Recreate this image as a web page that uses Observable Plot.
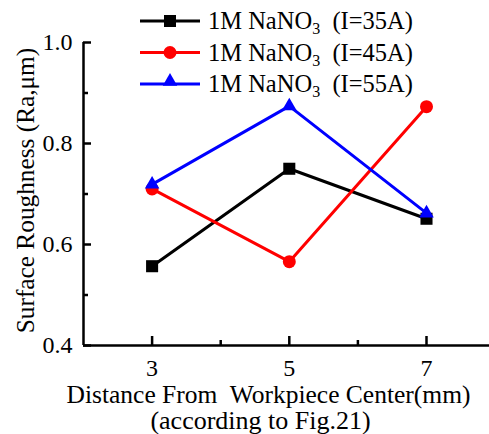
<!DOCTYPE html>
<html><head><meta charset="utf-8">
<script src="https://cdn.jsdelivr.net/npm/d3@7"></script>
<script src="https://cdn.jsdelivr.net/npm/@observablehq/plot@0.6"></script>
<style>body{margin:0;background:#fff}</style>
</head><body><div id="chart"></div>
<script>
const distances = [3, 5, 7];
const series = ["I=35A", "I=45A", "I=55A"];
const ra35 = [0.557, 0.750, 0.651];
const ra45 = [0.710, 0.566, 0.873];
const ra55 = [0.719, 0.874, 0.662];
const xTicks = [3, 5, 7];
const xMinorTicks = [4, 6];
const yTicks = [0.4, 0.6, 0.8, 1.0];
const yMinorTicks = [0.5, 0.7, 0.9];
const xTitle = "Distance From\u00a0 Workpiece Center(mm)";
const xTitle2 = "(according to Fig.21)";
const yTitle = "Surface Roughness (Ra,\u03bcm)";

const colors = ["#000000", "#ff0000", "#0000ff"];
const symbols = ["square", "circle", "triangle"];
const radii = [6.8, 6.5, 5.4];
const values = [ra35, ra45, ra55];
const table = [];
series.forEach((s, i) => distances.forEach((d, j) => table.push({series: s, x: d, y: values[i][j]})));

const font = "'Liberation Serif','Times New Roman',serif";
const W = 489, H = 434, mL = 83, mT = 42, mB = 89;
const frameW = W - mL, frameH = H - mT - mB;

const marks = [];
series.forEach((s, i) => {
  const d = table.filter(r => r.series === s);
  marks.push(Plot.line(d, {x: "x", y: "y", stroke: colors[i], strokeWidth: 3}));
  marks.push(Plot.dot(d, {x: "x", y: "y", fill: colors[i], stroke: "none", symbol: symbols[i], r: radii[i]}));
});

const chart = Plot.plot({
  width: W, height: H,
  marginLeft: mL, marginRight: 0, marginTop: mT, marginBottom: mB,
  style: {fontFamily: font, fontSize: "24px", background: "#fff", color: "#000"},
  x: {domain: [2, 8], range: [mL, mL + 6 * 68.6], axis: null},
  y: {domain: [0.4, 1.0], range: [H - mB, mT], axis: null},
  marks: [
    ...marks,
    Plot.ruleX([2], {stroke: "#000", strokeWidth: 2.5}),
    Plot.ruleY([0.4], {stroke: "#000", strokeWidth: 2.5}),
    Plot.ruleX(xTicks, {x: d => d, insetTop: frameH - 9, stroke: "#000", strokeWidth: 2.5}),
    Plot.ruleX(xMinorTicks, {x: d => d, insetTop: frameH - 5, stroke: "#000", strokeWidth: 2.5}),
    Plot.ruleY(yTicks, {y: d => d, insetRight: frameW - 8, stroke: "#000", strokeWidth: 2.5}),
    Plot.ruleY(yMinorTicks, {y: d => d, insetRight: frameW - 5, stroke: "#000", strokeWidth: 2.5}),
    Plot.axisX({ticks: xTicks, tickSize: 0, tickPadding: 13, fontSize: 24, label: null, tickFormat: d3.format("d")}),
    Plot.axisY({ticks: yTicks, tickSize: 0, tickPadding: 11, fontSize: 24, label: null, tickFormat: d3.format(".1f")}),
    Plot.text([xTitle], {frameAnchor: "bottom", textAnchor: "middle", dx: -18, dy: 49, lineAnchor: "middle", fontSize: 25.5, fill: "#000"}),
    Plot.text([xTitle2], {frameAnchor: "bottom", textAnchor: "middle", dx: -26, dy: 75, lineAnchor: "middle", fontSize: 26, fill: "#000"}),
    Plot.text([yTitle], {frameAnchor: "left", textAnchor: "middle", dx: -58, dy: -3.5, rotate: -90, lineAnchor: "middle", fontSize: 25.3, fill: "#000"})
  ]
});
document.getElementById("chart").appendChild(chart);

// Legend
const svg = d3.select(chart);
const lg = svg.append("g").attr("font-family", font).attr("font-size", 24.5).attr("text-anchor", "start");
const rowsY = [21, 52.5, 84];
const legendSymbols = [d3.symbolSquare, d3.symbolCircle, d3.symbolTriangle];
series.forEach((s, i) => {
  const y = rowsY[i];
  const g = lg.append("g");
  g.append("line").attr("x1", 140).attr("x2", 200).attr("y1", y).attr("y2", y)
    .attr("stroke", colors[i]).attr("stroke-width", 3);
  g.append("path").attr("transform", `translate(170,${i === 2 ? y - 2.5 : y})`)
    .attr("d", d3.symbol(legendSymbols[i], Math.PI * radii[i] * radii[i])())
    .attr("fill", colors[i]);
  const t = g.append("text").attr("x", 208).attr("y", y + 8).attr("fill", "#000").attr("text-anchor", "start");
  t.append("tspan").text("1M NaNO");
  t.append("tspan").attr("font-size", 16).attr("dy", 5).text("3");
  t.append("tspan").attr("dy", -5).text("\u00a0 (" + s + ")");
});
</script>
</body></html>
